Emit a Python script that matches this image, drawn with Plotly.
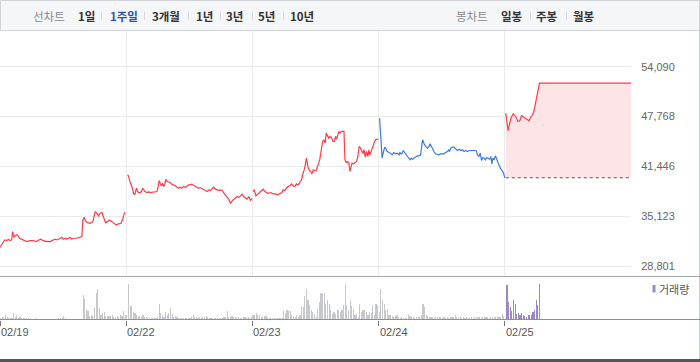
import plotly.graph_objects as go

# ---------------- data ----------------
days = ["02/19", "02/22", "02/23", "02/24", "02/25"]
y_ticks = [28801, 35123, 41446, 47768, 54090]
prev_close = 40000  # 02/24 close (base for 02/25)

# minutes since 09:00 open, and price
d1_min = [0, 5, 10, 15, 21, 26, 31, 36, 39, 43, 50, 54, 60, 67, 74, 83, 93, 103, 111, 119,
          126, 134, 145, 155, 163, 170, 177, 184, 191, 196, 201, 206, 211, 217, 222, 227, 237, 248, 253, 256,
          260, 264, 270, 279, 287, 294, 299, 304, 310, 315, 320, 326, 332, 338, 346, 353, 359, 366, 374, 380,
          384, 388]
d1_price = [31177, 31470, 31889, 32105, 32016, 32194, 32016, 32105, 33160, 32448, 32740, 32740, 32321, 32194,
            32016, 31889, 32016, 32016, 31889, 32016, 32194, 32016, 31889, 31889, 32016, 32194, 32105, 32321,
            32448, 32194, 32321, 32194, 32321, 32448, 32194, 32321, 32321, 32448, 32524, 34647, 34990, 34558,
            34303, 34227, 34431, 35702, 35498, 35155, 35498, 35574, 35066, 34303, 34431, 34647, 34431, 34227,
            34011, 34138, 34227, 34863, 35498, 35574]

d2_min = [4, 7, 10, 14, 19, 23, 27, 30, 32, 35, 39, 43, 47, 51, 54, 58, 64, 70, 74, 79,
          85, 90, 95, 99, 102, 105, 109, 112, 116, 120, 123, 126, 131, 136, 141, 146, 152, 157, 162, 167,
          172, 177, 183, 188, 193, 198, 203, 208, 214, 219, 224, 229, 234, 239, 245, 250, 255, 260, 265, 270,
          275, 281, 286, 291, 296, 301, 306, 312, 317, 322, 327, 332, 337, 343, 348, 353, 358, 363, 368, 373,
          379, 384, 389]
d2_price = [40365, 40238, 39730, 39306, 38671, 37951, 37909, 38459, 38671, 38247, 38120, 38120, 38247, 38671,
            38459, 38247, 38120, 38205, 38120, 38163, 38120, 38163, 38247, 38882, 39645, 39306, 38967, 39306,
            38882, 39306, 39815, 39518, 39433, 39391, 39179, 39094, 38967, 38798, 38671, 38798, 38671, 38882,
            38798, 38967, 39094, 39094, 39179, 39052, 38967, 38798, 38671, 38755, 38628, 38544, 38374, 38247,
            38459, 38374, 38544, 38798, 38586, 38459, 38374, 38459, 38374, 38120, 37824, 37612, 37273, 36765,
            37103, 37273, 37400, 37612, 37485, 37697, 37909, 37612, 37400, 37273, 37612, 37103, 37400]

d3_min = [2, 6, 11, 17, 23, 28, 33, 39, 45, 52, 58, 64, 71, 78, 85, 91, 95, 100, 105, 110,
          116, 121, 126, 131, 136, 141, 146, 152, 157, 161, 164, 167, 171, 175, 180, 184, 188, 193, 197, 201,
          205, 208, 213, 217, 221, 225, 228, 232, 236, 240, 245, 249, 253, 257, 260, 264, 267, 271, 275, 280,
          283, 286, 290, 294, 298, 301, 304, 308, 313, 317, 322, 326, 330, 334, 338, 341, 345, 349, 353, 357,
          360, 363, 367, 371, 376, 380, 384, 389]
d3_price = [38247, 38459, 37697, 37951, 38247, 38459, 38544, 38247, 38036, 38036, 38120, 37951, 37951, 37824,
            37951, 38120, 38459, 38374, 38671, 38882, 38967, 39221, 38967, 38882, 39221, 39094, 39391, 39730,
            40662, 41086, 41763, 42483, 41509, 41001, 40789, 40492, 41001, 40874, 40916, 41424, 41932, 42271,
            43542, 44601, 44813, 44389, 45660, 45236, 45025, 45236, 45025, 44601, 44601, 45236, 44898, 45448,
            45872, 45660, 45872, 45872, 45872, 42271, 41932, 42059, 41932, 40789, 41424, 41848, 41763, 41848,
            42059, 42695, 43965, 43754, 43330, 43119, 43542, 42610, 43330, 42695, 43542, 42907, 43330, 43965,
            44389, 44813, 44898, 44898]

d4_min = [3, 6, 9, 11, 14, 19, 22, 27, 32, 37, 42, 47, 53, 58, 63, 66, 70, 73, 76, 80,
          85, 89, 93, 97, 101, 105, 109, 115, 120, 125, 130, 133, 136, 140, 145, 151, 156, 159, 162, 166,
          171, 176, 182, 187, 192, 197, 202, 207, 213, 216, 219, 223, 228, 233, 238, 243, 249, 254, 259, 264,
          269, 274, 280, 285, 290, 295, 300, 303, 305, 310, 314, 318, 322, 326, 330, 334, 338, 343, 347, 350,
          353, 357, 361, 365, 369, 373, 378, 382, 386, 390]
d4_price = [47567, 45660, 43965, 42483, 43119, 43881, 43754, 43330, 43203, 43119, 42907, 43203, 43034, 43119,
            42907, 43203, 42992, 43119, 43457, 43203, 42907, 42695, 42483, 42271, 42483, 42356, 42483, 42695,
            42780, 42780, 42907, 43965, 44813, 44389, 43965, 43754, 43965, 44304, 44050, 43627, 43330, 43034,
            42992, 42907, 43034, 42992, 43034, 43203, 43330, 43542, 43330, 43754, 43881, 43881, 43627, 43457,
            43627, 43457, 43542, 43330, 43457, 43330, 43457, 43457, 43415, 43457, 43457, 43330, 42907, 42695,
            43119, 42186, 42568, 42483, 42271, 42568, 42483, 42356, 42695, 41763, 42483, 42271, 42780, 42271,
            41848, 41509, 41086, 40916, 40577, 40000]

d5_min = [3, 10, 19, 26, 34, 41, 46, 52, 60, 68, 75, 80, 86, 91, 96, 101, 107, 390]
d5_price = [48206, 45995, 47571, 48117, 47774, 47139, 47228, 47863, 47647, 47444, 47228, 47698, 47990,
            48625, 49680, 50400, 52000, 52000]

# volume per 5-minute bar (thousand shares)
vol_d1 = [1.5, 2.7, 2.7, 4.3, 2.7, 1.7, 1.7, 1.7, 6.7, 2.7, 5, 1.7, 2.7, 1.7, 1.7, 1.7, 1.7, 1.7,
          0, 0, 0, 0, 1.7, 0, 0, 0, 0, 0.7, 0, 0, 0, 0, 0, 0, 0, 0,
          1.7, 1.7, 1.7, 3.3, 1.7, 0.7, 0, 0, 0, 0, 0, 0, 0, 0, 0,
          24.3, 20.3, 10, 8.7, 3.3, 5, 3.3, 11.7, 27, 30.3, 11.7, 5, 6.7, 7.7, 3.3, 3.3, 3.3, 3.3, 4.3,
          2.7, 2.7, 3.3, 2.7, 4.3, 3.3, 8.3, 4.3]
vol_d2 = [4.3, 35.3, 13.3, 13.3, 7.7, 6.7, 5, 2.7, 3.3, 2.7, 5, 2.7, 2.7, 1.7, 1.7, 1.7, 1.7, 1.7, 1.7, 2.7,
          15.3, 6.7, 5, 2.7, 7.7, 4.3, 6.7, 12, 6, 2.7, 3.3, 2.7,
          1.7, 1.7, 1.7, 1.7, 1.7, 1.7, 1.7,
          1.7, 2.7, 4.3, 2.7, 2.7, 1.7, 2.7, 1.7, 2.7, 2.7, 3.3, 2.7,
          1.7, 1.7, 1.7, 1.7, 1.7, 1.7, 1.7,
          1.7, 1.7, 2.7, 2.7, 8.3, 2.7, 2.7, 3.3, 2.7, 2.7, 1.7, 2.7, 1.7, 1.7, 2.7, 2.7, 1.7, 2.7, 1.7, 2.7]
vol_d3 = [5, 5, 6.7, 4.3, 4.3, 2.7, 2.7, 3.3, 3.3, 2.7,
          1.7, 1.7, 1.7, 1.7, 1.7, 1.7, 1.7, 1.7, 1.7,
          8.7, 6.7, 9.3, 8.7, 8.7, 4.3, 3.3, 2.7, 4.3, 2.7,
          4.3, 13.3, 12.7, 23.3, 30.3, 20, 14.3, 9.3, 7.7, 6,
          2.7, 11, 17.7, 27, 26, 26.7, 16, 20, 15.3, 10,
          6, 7.7, 6, 9.3, 10, 7.7, 10, 14.3, 36, 14.3,
          10, 20, 13.3, 11, 4.3, 6, 2.7, 15.3, 7.7, 10,
          9.3, 7.7, 4.3, 7.7, 6.7, 14.3, 4.3, 15.3, 14.3]
vol_d4 = [8, 30.3, 20, 16, 10, 11, 4.3, 5, 3.3, 2.7, 3.3, 4.3, 2.7, 1.7, 2.7, 1.7, 1.7, 1.7, 5, 3.3,
          2.7, 2.7, 1.7, 2.7, 2.7, 2.7, 4.3, 16, 12.7, 5, 3.3, 2.7,
          2.7, 2.7, 1.7, 2.7, 2.7, 2.7, 2.7, 1.7, 2.7, 1.7, 2.7, 1.7, 2.7, 2.7, 2.7,
          4.3,
          2.7, 1.7, 2.7, 1.7, 2.7, 1.7, 2.7, 1.7, 1.7, 2.7, 1.7, 2.7, 1.7, 2.7, 2.7, 1.7, 2.7, 2.7, 2.7, 2.7,
          1.7, 2.7, 2.7, 2.7, 2.7, 2.7, 2.7, 2.7,
          6, 3.3]
vol_d5 = [0, 34.3, 17.7, 12.7, 8.7, 19.3, 16, 6, 6.7, 4.3, 6.7, 5, 3.3, 2.7, 4.3, 5, 5, 7.7, 9.3, 19.3,
          15, 35.3, 1, 1, 0, 0, 1, 0, 0, 0, 0, 1, 1]

# ---------------- style / geometry ----------------
W, H = 700, 362
PLOT_R = 631            # right edge of plotting area (px)
PRICE_TOP, PRICE_BOT = 31, 276
VOL_TOP, VOL_BOT = 277, 319.5
GRID_TOP_PX, GRID_BOT_PX = 66.7, 266.0
SESSION = 390

RED = "#ff3b47"
BLUE = "#3a7be0"
PINK = "#fde4e6"
GRAY_BAR = "#c6c8cc"
PURPLE = "#9c87c9"
GRID = "#ebebeb"
FONT = "Liberation Sans, Noto Sans CJK KR, sans-serif"
KFONT = "Noto Sans CJK KR, sans-serif"


def px_y(p):
    return (H - p) / H


def px_x(p):
    return p / W


per_px = (y_ticks[-1] - y_ticks[0]) / (GRID_BOT_PX - GRID_TOP_PX)
y_lo = y_ticks[0] - (PRICE_BOT - GRID_BOT_PX) * per_px
y_hi = y_ticks[-1] + (GRID_TOP_PX - PRICE_TOP) * per_px


def xs(day, mins):
    return [day + m / SESSION for m in mins]


fig = go.Figure()

line_w = 1.2
series = [(0, d1_min, d1_price, RED), (1, d2_min, d2_price, RED),
          (2, d3_min, d3_price, RED), (3, d4_min, d4_price, BLUE)]
for day, mins, prices, col in series:
    fig.add_trace(go.Scatter(x=xs(day, mins), y=prices, mode="lines",
                             line=dict(color=col, width=line_w), hoverinfo="skip",
                             xaxis="x", yaxis="y"))

# baseline (previous close) for today, then today's line with fill
base_x = [4 + d5_min[0] / SESSION, 5]
fig.add_trace(go.Scatter(x=base_x, y=[prev_close, prev_close], mode="lines",
                         line=dict(color="#555555", width=1, dash="dot"),
                         hoverinfo="skip", xaxis="x", yaxis="y"))
fig.add_trace(go.Scatter(x=xs(4, d5_min), y=d5_price, mode="lines", fill="tonexty",
                         fillcolor=PINK, line=dict(color=RED, width=line_w),
                         hoverinfo="skip", xaxis="x", yaxis="y"))

# volume bars
bar_w = 1.15 / 126.2
for day, vols in enumerate([vol_d1, vol_d2, vol_d3, vol_d4, vol_d5]):
    bx = [day + (5 * k + 2) / SESSION for k in range(len(vols))]
    fig.add_trace(go.Bar(x=bx, y=vols, width=bar_w,
                         marker=dict(color=PURPLE if day == 4 else GRAY_BAR, line=dict(width=0)),
                         hoverinfo="skip", xaxis="x2", yaxis="y2"))

x_dom = [0, PLOT_R / W]
fig.update_layout(
    width=W, height=H, margin=dict(l=0, r=0, t=0, b=0),
    paper_bgcolor="white", plot_bgcolor="white", showlegend=False,
    bargap=0,
    font=dict(family=FONT, size=11, color="#666"),
    xaxis=dict(domain=x_dom, range=[0, 5], tickvals=[1, 2, 3, 4], showticklabels=False,
               showgrid=True, gridcolor=GRID, gridwidth=1, zeroline=False, showline=False,
               ticks="", anchor="y", fixedrange=True),
    yaxis=dict(domain=[px_y(PRICE_BOT), px_y(PRICE_TOP)], range=[y_lo, y_hi], side="right",
               tickvals=y_ticks, ticktext=[f"{v:,}" for v in y_ticks],
               showgrid=True, gridcolor=GRID, gridwidth=1, zeroline=False, showline=False,
               ticks="outside", ticklen=7, tickcolor="rgba(0,0,0,0)",
               tickfont=dict(family=FONT, size=11, color="#666"), anchor="x", fixedrange=True),
    xaxis2=dict(domain=x_dom, range=[0, 5], tickvals=[0, 1, 2, 3, 4], showticklabels=False,
                showgrid=False, zeroline=False, showline=False, ticks="outside", ticklen=5,
                tickcolor="#777", tickwidth=1, anchor="y2", fixedrange=True),
    yaxis2=dict(domain=[px_y(VOL_BOT), px_y(VOL_TOP)], range=[0, VOL_BOT - VOL_TOP],
                visible=False, anchor="x2", fixedrange=True),
)

shapes = []
# top menu bar
shapes.append(dict(type="rect", xref="paper", yref="paper", x0=px_x(0.5), x1=px_x(699.5),
                   y0=px_y(30.5), y1=px_y(0.5), fillcolor="#f5f6f8",
                   line=dict(color="#d0d3d8", width=1), layer="below"))
# right border
shapes.append(dict(type="line", xref="paper", yref="paper", x0=px_x(699.5), x1=px_x(699.5),
                   y0=px_y(359), y1=px_y(30.5), line=dict(color="#c9ccd0", width=1)))
# price panel bottom border
shapes.append(dict(type="line", xref="paper", yref="paper", x0=0, x1=1,
                   y0=px_y(276.5), y1=px_y(276.5), line=dict(color="#a3a7ad", width=1)))
# volume baseline
shapes.append(dict(type="line", xref="paper", yref="paper", x0=0, x1=1,
                   y0=px_y(319.5), y1=px_y(319.5), line=dict(color="#8e9197", width=1)))
# bottom dark line
shapes.append(dict(type="line", xref="paper", yref="paper", x0=0, x1=1,
                   y0=px_y(360.5), y1=px_y(360.5), line=dict(color="#555555", width=3)))
# menu separators
for sx in [101, 144, 188, 220, 252, 283, 530, 566]:
    shapes.append(dict(type="line", xref="paper", yref="paper", x0=px_x(sx + 0.5), x1=px_x(sx + 0.5),
                       y0=px_y(19.5), y1=px_y(11.5), line=dict(color="#d6d8dc", width=1)))
# volume legend swatch
shapes.append(dict(type="rect", xref="paper", yref="paper", x0=px_x(652.5), x1=px_x(655.5),
                   y0=px_y(292.5), y1=px_y(285), fillcolor=PURPLE, line=dict(width=0)))
fig.update_layout(shapes=shapes)

ann = []
for i, d in enumerate(days):
    ann.append(dict(x=i, xref="x2", y=px_y(332), yref="paper", text=d, showarrow=False,
                    xanchor="left", yanchor="middle", xshift=-1,
                    font=dict(family=FONT, size=11, color="#555")))
ann.append(dict(x=px_x(657), xref="paper", y=px_y(289), yref="paper", text="거래량", showarrow=False,
                xanchor="left", yanchor="middle", font=dict(family=KFONT, size=11, color="#555")))

menu = [("선차트", 48.5, "#8a8a8a", False), ("1일", 86, "#333", True), ("1주일", 123.5, "#2b53b3", True),
        ("3개월", 166, "#333", True), ("1년", 204, "#333", True), ("3년", 235, "#333", True),
        ("5년", 266.5, "#333", True), ("10년", 301.5, "#333", True),
        ("봉차트", 471.5, "#8a8a8a", False), ("일봉", 512, "#333", True), ("주봉", 547, "#333", True),
        ("월봉", 583.5, "#333", True)]
for txt, cx, col, bold in menu:
    ann.append(dict(x=px_x(cx), xref="paper", y=px_y(15.5), yref="paper",
                    text=f"<b>{txt}</b>" if bold else txt, showarrow=False,
                    xanchor="center", yanchor="middle",
                    font=dict(family=KFONT, size=11.5, color=col)))
fig.update_layout(annotations=ann)

fig.write_html("out.html", config={"displayModeBar": False, "staticPlot": True},
               post_script="document.body.style.margin='0';document.body.style.overflow='hidden';")
